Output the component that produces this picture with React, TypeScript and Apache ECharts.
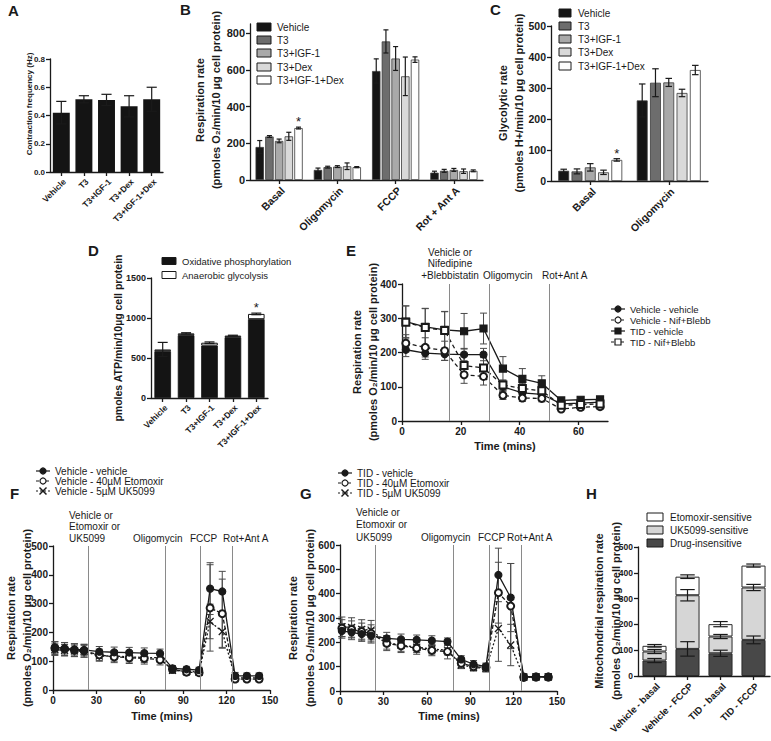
import { useEffect, useRef } from 'react';
import * as echarts from 'echarts';

// ---------- Panel A ----------
const aCategories = ['Vehicle', 'T3', 'T3+IGF-1', 'T3+Dex', 'T3+IGF-1+Dex'];
const aFrequency = [0.42, 0.515, 0.51, 0.465, 0.515];
const aFrequencyErr = [0.08, 0.025, 0.04, 0.075, 0.085];

// ---------- Panel B ----------
const bCategories = ['Basal', 'Oligomycin', 'FCCP', 'Rot + Ant A'];
const treatments = ['Vehicle', 'T3', 'T3+IGF-1', 'T3+Dex', 'T3+IGF-1+Dex'];
const bVehicle = [180, 55, 594, 40];
const bT3 = [237, 70, 755, 50];
const bT3Igf = [213, 73, 662, 55];
const bT3Dex = [238, 75, 565, 48];
const bT3IgfDex = [283, 70, 656, 50];
const bVehicleErr = [35, 10, 66, 8];
const bT3Err = [5, 5, 63, 8];
const bT3IgfErr = [10, 5, 65, 8];
const bT3DexErr = [22, 18, 105, 12];
const bT3IgfDexErr = [5, 3, 15, 5];
const bSignificant = [[0, 0, 0, 0], [0, 0, 0, 0], [0, 0, 0, 0], [0, 0, 0, 0], [1, 0, 0, 0]];
const bTicks = [0, 200, 400, 600, 800];

// ---------- Panel C ----------
const cCategories = ['Basal', 'Oligomycin'];
const cVehicle = [33, 260];
const cT3 = [31, 317];
const cT3Igf = [44, 318];
const cT3Dex = [28, 284];
const cT3IgfDex = [68, 358];
const cVehicleErr = [5, 53];
const cT3Err = [8, 45];
const cT3IgfErr = [12, 13];
const cT3DexErr = [7, 12];
const cT3IgfDexErr = [4, 15];
const cSignificant = [[0, 0], [0, 0], [0, 0], [0, 0], [1, 0]];

// ---------- Panel D ----------
const dCategories = ['Vehicle', 'T3', 'T3+IGF-1', 'T3+Dex', 'T3+IGF-1+Dex'];
const dOxPhos = [585, 785, 655, 760, 985];
const dGlycolysis = [22, 23, 36, 20, 66];
const dTotalErr = [88, 8, 10, 5, 10];
const dSignificant = [0, 0, 0, 0, 1];

// ---------- Panel E ----------
const eTime = [1.3, 7.9, 14.5, 21.1, 27.7, 34.3, 40.9, 47.5, 54.1, 60.7, 67.3];
const eVehVeh = [208, 198, 195, 194, 194, 100, 82, 78, 50, 52, 55];
const eVehNif = [227, 215, 205, 135, 130, 75, 67, 66, 35, 40, 42];
const eTidVeh = [290, 275, 266, 262, 270, 153, 123, 110, 60, 62, 63];
const eTidNif = [288, 273, 264, 162, 155, 105, 95, 88, 46, 48, 50];
const eVehVehErr = [20, 18, 18, 18, 18, 12, 10, 10, 6, 6, 6];
const eVehNifErr = [25, 28, 28, 25, 25, 12, 10, 10, 8, 8, 8];
const eTidVehErr = [46, 54, 54, 52, 45, 35, 30, 22, 8, 8, 8];
const eTidNifErr = [48, 55, 55, 30, 30, 15, 14, 12, 8, 8, 8];
const eInjections = [16, 29.5, 50];
const eXTicks = [0, 20, 40, 60];

// ---------- Panel F ----------
const fTime = [1.3, 8, 14.8, 21.5, 32, 42.3, 52.7, 63.1, 74, 82.6, 92.3, 101, 108.6, 117, 125.9, 134, 142.5];
const fVehicle = [148, 145, 141, 139, 133, 131, 130, 128, 127, 75, 72, 69, 352, 342, 49, 49, 49];
const fEtomoxir = [145, 142, 138, 136, 122, 115, 112, 110, 105, 72, 62, 60, 285, 265, 38, 38, 38];
const fUK5099 = [140, 138, 136, 134, 118, 118, 115, 113, 112, 68, 65, 62, 238, 203, 42, 42, 42];
const fVehicleErr = [20, 20, 20, 20, 18, 18, 18, 18, 15, 10, 10, 10, 90, 70, 12, 10, 10];
const fEtomoxirErr = [22, 22, 22, 22, 20, 20, 20, 20, 18, 12, 10, 10, 150, 120, 10, 10, 10];
const fUK5099Err = [20, 20, 20, 20, 18, 18, 18, 18, 15, 10, 10, 10, 60, 55, 10, 10, 10];
const fInjections = [24.5, 77.5, 102, 124];

// ---------- Panel G ----------
const gTime = [1.3, 8, 15, 21.5, 32.3, 42.2, 53, 63.5, 74.3, 83.8, 92.3, 100.9, 109.5, 118, 127, 135.5, 144];
const gVehicle = [247, 241, 234, 227, 216, 212, 210, 207, 203, 130, 110, 100, 477, 384, 59, 59, 59];
const gEtomoxir = [258, 253, 244, 237, 196, 186, 176, 167, 162, 114, 100, 97, 404, 349, 56, 57, 57];
const gUK5099 = [264, 261, 253, 250, 200, 188, 180, 172, 168, 107, 97, 93, 257, 189, 57, 58, 58];
const gVehicleErr = [30, 30, 30, 30, 25, 22, 20, 20, 15, 15, 15, 15, 110, 140, 12, 12, 12];
const gEtomoxirErr = [35, 35, 35, 35, 30, 28, 25, 22, 30, 20, 15, 15, 125, 175, 12, 12, 12];
const gUK5099Err = [40, 40, 40, 40, 28, 25, 22, 20, 20, 15, 15, 15, 135, 85, 12, 12, 12];
const gInjections = [24.5, 78, 103, 125];

// ---------- Panel H ----------
const hCategories = ['Vehicle - basal', 'Vehicle - FCCP', 'TID - basal', 'TID - FCCP'];
const hDrugInsensitive = [60, 105, 88, 140];
const hUK5099Sensitive = [35, 208, 65, 203];
const hEtomoxirSensitive = [22, 72, 48, 85];
const hDrugInsensitiveErr = [8, 28, 12, 15];
const hUK5099Err = [8, 22, 8, 12];
const hEtomoxirErr = [5, 7, 10, 6];

// ---------- styling ----------
const FONT = '"Liberation Sans", Arial, Helvetica, sans-serif';
const INK = '#1a1a1a';
const ERR = '#4a4a4a';
const AXIS_LINE = { color: INK, width: 1.3 };
const groupColors = ['#151515', '#6d6d6d', '#a9a9a9', '#d9d9d9', '#ffffff'];

function valueAxis(gridIndex: number, min: number, max: number, interval: number, fontSize: number, isX: boolean, custom?: number[], decimals = 0) {
  const ax: any = {
    type: 'value', gridIndex, min, max, interval,
    axisLine: { show: true, lineStyle: AXIS_LINE },
    axisTick: { show: true, length: 4, lineStyle: AXIS_LINE },
    splitLine: { show: false },
    axisLabel: {
      color: INK, fontFamily: FONT, fontWeight: 'bold', fontSize, margin: isX ? 5 : 5,
      formatter: (v: number) => (custom && custom.indexOf(v) < 0 ? '' : v.toFixed(decimals)),
    },
  };
  if (custom) {
    ax.axisLabel.customValues = custom;
    ax.axisTick.customValues = custom;
  }
  return ax;
}

function categoryAxis(gridIndex: number, data: string[], fontSize: number) {
  return {
    type: 'category', gridIndex, data,
    axisLine: { show: true, lineStyle: AXIS_LINE },
    axisTick: { show: true, alignWithLabel: true, length: 4, lineStyle: AXIS_LINE },
    splitLine: { show: false },
    axisLabel: {
      interval: 0, rotate: 45, color: INK, fontFamily: FONT, fontWeight: 'bold', fontSize, margin: 5,
      align: 'right', verticalAlign: 'top',
    },
  };
}

function barErrors(idx: number, rows: number[][], nSeries: number, catGap: number, barGap: number) {
  return {
    type: 'custom', xAxisIndex: idx, yAxisIndex: idx, z: 5, silent: true,
    encode: { x: 0, y: 1 },
    data: rows,
    renderItem: (_p: any, api: any) => {
      const ci = api.value(0), v = api.value(1), e = api.value(2), si = api.value(3), star = api.value(4);
      const band = api.size([1, 0])[0];
      const bw = (band * (1 - catGap)) / (nSeries + (nSeries - 1) * barGap);
      const total = nSeries * bw + (nSeries - 1) * bw * barGap;
      const c = api.coord([ci, v]);
      const x = c[0] - total / 2 + si * bw * (1 + barGap) + bw / 2;
      const yT = api.coord([ci, v + e])[1];
      const yB = api.coord([ci, v - e])[1];
      const h = Math.max(2.5, bw * 0.3);
      const st = { stroke: INK, lineWidth: 1.2 };
      const children: any[] = [
        { type: 'line', shape: { x1: x, y1: yT, x2: x, y2: yB }, style: st },
        { type: 'line', shape: { x1: x - h, y1: yT, x2: x + h, y2: yT }, style: st },
        { type: 'line', shape: { x1: x - h, y1: yB, x2: x + h, y2: yB }, style: st },
      ];
      if (star) {
        children.push({ type: 'text', x, y: yT + 1, style: { text: '*', fontSize: 13, fontFamily: FONT, fill: INK, align: 'center', verticalAlign: 'bottom' } });
      }
      return { type: 'group', children };
    },
  };
}

function pointErrors(idx: number, xs: number[], ys: number[], es: number[]) {
  return {
    type: 'custom', xAxisIndex: idx, yAxisIndex: idx, z: 1, silent: true,
    encode: { x: 0, y: 1 },
    data: xs.map((x, i) => [x, ys[i], es[i]]),
    renderItem: (_p: any, api: any) => {
      const xv = api.value(0), v = api.value(1), e = api.value(2);
      const x = api.coord([xv, v])[0];
      const yT = api.coord([xv, v + e])[1];
      const yB = api.coord([xv, v - e])[1];
      const h = 3.5;
      const st = { stroke: ERR, lineWidth: 1 };
      return {
        type: 'group',
        children: [
          { type: 'line', shape: { x1: x, y1: yT, x2: x, y2: yB }, style: st },
          { type: 'line', shape: { x1: x - h, y1: yT, x2: x + h, y2: yT }, style: st },
          { type: 'line', shape: { x1: x - h, y1: yB, x2: x + h, y2: yB }, style: st },
        ],
      };
    },
  };
}

const CROSS = 'path://M0,0L10,10M10,0L0,10';

function lineSeries(idx: number, name: string, xs: number[], ys: number[], symbol: string, dash: any, marks?: number[]) {
  const s: any = {
    type: 'line', name, xAxisIndex: idx, yAxisIndex: idx, z: 3,
    data: xs.map((x, i) => [x, ys[i]]),
    symbol, symbolSize: 7, showSymbol: true,
    lineStyle: { color: INK, width: 1.3, type: dash },
    itemStyle: { color: INK, borderColor: INK, borderWidth: 1.2 },
  };
  if (marks) {
    s.markLine = {
      silent: true, symbol: ['none', 'none'], label: { show: false },
      lineStyle: { color: '#8a8a8a', width: 1, type: 'solid' },
      data: marks.map((v) => ({ xAxis: v })),
    };
  }
  return s;
}

function txt(x: number, y: number, text: string, size: number, opts: any = {}) {
  return {
    type: 'text', x, y, rotation: opts.rotation || 0, silent: true,
    style: {
      text, fontSize: size, fontFamily: FONT, fontWeight: opts.bold ? 'bold' : 'normal', fill: INK,
      align: opts.align || 'left', verticalAlign: 'middle',
    },
  };
}
const vtxt = (x: number, y: number, text: string, size: number) =>
  txt(x, y, text, size, { rotation: Math.PI / 2, align: 'center', bold: true });

function barLegend(x: number, w: number, h: number, tx: number, rows: number[], names: string[], fills: string[], size: number) {
  const out: any[] = [];
  names.forEach((n, i) => {
    out.push({ type: 'rect', silent: true, shape: { x, y: rows[i] - h / 2, width: w, height: h }, style: { fill: fills[i], stroke: INK, lineWidth: 1 } });
    out.push(txt(tx, rows[i], n, size));
  });
  return out;
}

function lineLegend(x1: number, x2: number, tx: number, rows: number[], names: string[], marks: string[], dashes: any[], size: number) {
  const out: any[] = [];
  names.forEach((n, i) => {
    const y = rows[i];
    const cx = (x1 + x2) / 2;
    out.push({ type: 'line', silent: true, shape: { x1, y1: y, x2, y2: y }, style: { stroke: INK, lineWidth: 1.2, lineDash: dashes[i] } });
    const m = marks[i];
    if (m === 'circle' || m === 'emptyCircle') {
      out.push({ type: 'circle', silent: true, shape: { cx, cy: y, r: 3 }, style: { fill: m === 'circle' ? INK : '#fff', stroke: INK, lineWidth: 1.2 } });
    } else if (m === 'rect' || m === 'emptyRect') {
      out.push({ type: 'rect', silent: true, shape: { x: cx - 3, y: y - 3, width: 6, height: 6 }, style: { fill: m === 'rect' ? INK : '#fff', stroke: INK, lineWidth: 1.2 } });
    } else {
      out.push({ type: 'line', silent: true, shape: { x1: cx - 3.5, y1: y - 3.5, x2: cx + 3.5, y2: y + 3.5 }, style: { stroke: INK, lineWidth: 1.5 } });
      out.push({ type: 'line', silent: true, shape: { x1: cx + 3.5, y1: y - 3.5, x2: cx - 3.5, y2: y + 3.5 }, style: { stroke: INK, lineWidth: 1.5 } });
    }
    out.push(txt(tx, y, n, size));
  });
  return out;
}

function buildOption() {
  const grids = [
    { left: 50, top: 59, width: 113, height: 113 }, // A
    { left: 250, top: 24, width: 233, height: 156 }, // B
    { left: 551, top: 26, width: 157, height: 155 }, // C
    { left: 151, top: 278, width: 117, height: 120 }, // D
    { left: 402, top: 284, width: 206, height: 137 }, // E
    { left: 53, top: 546, width: 217, height: 144 }, // F
    { left: 340, top: 545, width: 217, height: 146 }, // G
    { left: 638, top: 547, width: 132, height: 129 }, // H
  ];

  const xAxis = [
    categoryAxis(0, aCategories, 8.5),
    categoryAxis(1, bCategories, 10.5),
    categoryAxis(2, cCategories, 10.5),
    categoryAxis(3, dCategories, 8.5),
    valueAxis(4, 0, 70, 20, 10, true, eXTicks),
    valueAxis(5, 0, 150, 30, 10, true),
    valueAxis(6, 0, 150, 30, 10, true),
    categoryAxis(7, hCategories, 9.5),
  ];
  const yAxis = [
    valueAxis(0, 0, 0.8, 0.2, 8, false, undefined, 1),
    valueAxis(1, 0, 850, 50, 11, false, bTicks),
    valueAxis(2, 0, 500, 100, 10.5, false),
    valueAxis(3, 0, 1500, 500, 9, false),
    valueAxis(4, 0, 400, 100, 10, false),
    valueAxis(5, 0, 500, 100, 10, false),
    valueAxis(6, 0, 600, 100, 10, false),
    valueAxis(7, 0, 500, 100, 8.5, false),
  ];

  const series: any[] = [];

  // A
  series.push({ type: 'bar', xAxisIndex: 0, yAxisIndex: 0, data: aFrequency, barCategoryGap: '25%', itemStyle: { color: '#141414' } });
  series.push(barErrors(0, aFrequency.map((v, i) => [i, v, aFrequencyErr[i], 0, 0]), 1, 0.25, 0));

  // B
  const bVals = [bVehicle, bT3, bT3Igf, bT3Dex, bT3IgfDex];
  const bErrs = [bVehicleErr, bT3Err, bT3IgfErr, bT3DexErr, bT3IgfDexErr];
  treatments.forEach((name, si) => {
    series.push({
      type: 'bar', name, xAxisIndex: 1, yAxisIndex: 1, data: bVals[si], barCategoryGap: '19%', barGap: '15%',
      itemStyle: { color: groupColors[si], borderColor: '#3a3a3a', borderWidth: 0.8 },
    });
  });
  series.push(barErrors(1, bVals.flatMap((vals, si) => vals.map((v, ci) => [ci, v, bErrs[si][ci], si, bSignificant[si][ci]])), 5, 0.19, 0.15));

  // C
  const cVals = [cVehicle, cT3, cT3Igf, cT3Dex, cT3IgfDex];
  const cErrs = [cVehicleErr, cT3Err, cT3IgfErr, cT3DexErr, cT3IgfDexErr];
  treatments.forEach((name, si) => {
    series.push({
      type: 'bar', name, xAxisIndex: 2, yAxisIndex: 2, data: cVals[si], barCategoryGap: '18.5%', barGap: '22%',
      itemStyle: { color: groupColors[si], borderColor: '#3a3a3a', borderWidth: 0.8 },
    });
  });
  series.push(barErrors(2, cVals.flatMap((vals, si) => vals.map((v, ci) => [ci, v, cErrs[si][ci], si, cSignificant[si][ci]])), 5, 0.185, 0.22));

  // D
  series.push({ type: 'bar', name: 'Oxidative phosphorylation', stack: 'd', xAxisIndex: 3, yAxisIndex: 3, data: dOxPhos, barCategoryGap: '29%', itemStyle: { color: '#141414', borderColor: '#141414', borderWidth: 0.8 } });
  series.push({ type: 'bar', name: 'Anaerobic glycolysis', stack: 'd', xAxisIndex: 3, yAxisIndex: 3, data: dGlycolysis, barCategoryGap: '29%', itemStyle: { color: '#ffffff', borderColor: '#141414', borderWidth: 1 } });
  series.push(barErrors(3, dOxPhos.map((v, i) => [i, v + dGlycolysis[i], dTotalErr[i], 0, dSignificant[i]]), 1, 0.29, 0));

  // E
  series.push(pointErrors(4, eTime, eVehVeh, eVehVehErr));
  series.push(pointErrors(4, eTime, eVehNif, eVehNifErr));
  series.push(pointErrors(4, eTime, eTidVeh, eTidVehErr));
  series.push(pointErrors(4, eTime, eTidNif, eTidNifErr));
  series.push(lineSeries(4, 'Vehicle - vehicle', eTime, eVehVeh, 'circle', 'solid', eInjections));
  series.push(lineSeries(4, 'Vehicle - Nif+Blebb', eTime, eVehNif, 'emptyCircle', [4, 3]));
  series.push(lineSeries(4, 'TID - vehicle', eTime, eTidVeh, 'rect', 'solid'));
  series.push(lineSeries(4, 'TID - Nif+Blebb', eTime, eTidNif, 'emptyRect', [4, 3]));

  // F
  series.push(pointErrors(5, fTime, fVehicle, fVehicleErr));
  series.push(pointErrors(5, fTime, fEtomoxir, fEtomoxirErr));
  series.push(pointErrors(5, fTime, fUK5099, fUK5099Err));
  series.push(lineSeries(5, 'Vehicle - 5µM UK5099', fTime, fUK5099, CROSS, [2, 2], fInjections));
  series.push(lineSeries(5, 'Vehicle - 40µM Etomoxir', fTime, fEtomoxir, 'emptyCircle', [4, 2]));
  series.push(lineSeries(5, 'Vehicle - vehicle', fTime, fVehicle, 'circle', 'solid'));

  // G
  series.push(pointErrors(6, gTime, gVehicle, gVehicleErr));
  series.push(pointErrors(6, gTime, gEtomoxir, gEtomoxirErr));
  series.push(pointErrors(6, gTime, gUK5099, gUK5099Err));
  series.push(lineSeries(6, 'TID - 5µM UK5099', gTime, gUK5099, CROSS, [2, 2], gInjections));
  series.push(lineSeries(6, 'TID - 40µM Etomoxir', gTime, gEtomoxir, 'emptyCircle', [4, 2]));
  series.push(lineSeries(6, 'TID - vehicle', gTime, gVehicle, 'circle', 'solid'));

  // H
  const hStyle = (c: string) => ({ color: c, borderColor: '#2a2a2a', borderWidth: 1 });
  series.push({ type: 'bar', name: 'Drug-insensitive', stack: 'h', xAxisIndex: 7, yAxisIndex: 7, data: hDrugInsensitive, barCategoryGap: '27%', itemStyle: hStyle('#484848') });
  series.push({ type: 'bar', name: 'UK5099-sensitive', stack: 'h', xAxisIndex: 7, yAxisIndex: 7, data: hUK5099Sensitive, barCategoryGap: '27%', itemStyle: hStyle('#d6d6d6') });
  series.push({ type: 'bar', name: 'Etomoxir-sensitive', stack: 'h', xAxisIndex: 7, yAxisIndex: 7, data: hEtomoxirSensitive, barCategoryGap: '27%', itemStyle: hStyle('#ffffff') });
  const hRows: number[][] = [];
  hCategories.forEach((_c, i) => {
    const t1 = hDrugInsensitive[i];
    const t2 = t1 + hUK5099Sensitive[i];
    const t3 = t2 + hEtomoxirSensitive[i];
    hRows.push([i, t1, hDrugInsensitiveErr[i], 0, 0]);
    hRows.push([i, t2, hUK5099Err[i], 0, 0]);
    hRows.push([i, t3, hEtomoxirErr[i], 0, 0]);
  });
  series.push(barErrors(7, hRows, 1, 0.27, 0));

  // ---------- graphics: letters, axis names, legends, annotations ----------
  const g: any[] = [];
  const letters: [string, number, number][] = [
    ['A', 8, 10], ['B', 180, 9], ['C', 490, 9], ['D', 88, 250],
    ['E', 346, 250], ['F', 10, 493], ['G', 300, 493], ['H', 586, 493],
  ];
  letters.forEach(([l, x, y]) => g.push(txt(x, y, l, 15, { bold: true })));

  g.push(vtxt(29, 104, 'Contraction frequency (Hz)', 8));
  g.push(vtxt(200, 100, 'Respiration rate', 11));
  g.push(vtxt(216, 100, '(pmoles O₂/min/10 µg cell protein)', 11));
  g.push(vtxt(503, 103, 'Glycolytic rate', 11));
  g.push(vtxt(519, 103, '(pmoles H+/min/10 µg cell protein)', 11));
  g.push(vtxt(118, 338, 'pmoles ATP/min/10µg cell protein', 10.5));
  g.push(vtxt(357, 352, 'Respiration rate', 11));
  g.push(vtxt(373, 352, '(pmoles O₂/min/10 µg cell protein)', 11));
  g.push(vtxt(11, 618, 'Respiration rate', 11));
  g.push(vtxt(27, 618, '(pmoles O₂/min/10 µg cell protein)', 11));
  g.push(vtxt(293, 618, 'Respiration rate', 11));
  g.push(vtxt(310, 618, '(pmoles O₂/min/10 µg cell protein)', 11));
  g.push(vtxt(599, 611, 'Mitochondrial respiration rate', 11));
  g.push(vtxt(616, 611, '(pmoles O₂/min/10 µg cell protein)', 11));

  g.push(txt(505, 446, 'Time (mins)', 11, { bold: true, align: 'center' }));
  g.push(txt(162, 716, 'Time (mins)', 11, { bold: true, align: 'center' }));
  g.push(txt(449, 716, 'Time (mins)', 11, { bold: true, align: 'center' }));

  // annotations
  g.push(txt(450, 252, 'Vehicle or', 10, { align: 'center' }));
  g.push(txt(450, 263, 'Nifedipine', 10, { align: 'center' }));
  g.push(txt(450, 275, '+Blebbistatin', 10, { align: 'center' }));
  g.push(txt(483, 275, 'Oligomycin', 10));
  g.push(txt(542, 275, 'Rot+Ant A', 10));

  g.push(txt(69, 515, 'Vehicle or', 10));
  g.push(txt(69, 526.5, 'Etomoxir or', 10));
  g.push(txt(69, 538, 'UK5099', 10));
  g.push(txt(133, 538, 'Oligomycin', 10));
  g.push(txt(190, 538, 'FCCP', 10));
  g.push(txt(223, 538, 'Rot+Ant A', 10));

  g.push(txt(356, 512, 'Vehicle or', 10));
  g.push(txt(356, 524.5, 'Etomoxir or', 10));
  g.push(txt(356, 537, 'UK5099', 10));
  g.push(txt(421, 537, 'Oligomycin', 10));
  g.push(txt(478, 537, 'FCCP', 10));
  g.push(txt(507, 537, 'Rot+Ant A', 10));

  // legends
  g.push(...barLegend(257, 14, 8, 277, [27, 40, 53, 67, 80], treatments, groupColors, 10));
  g.push(...barLegend(559, 12, 8, 578, [13, 26, 39, 52, 66], treatments, groupColors, 10));
  g.push(...barLegend(162, 14, 7, 182, [261, 275], ['Oxidative phosphorylation', 'Anaerobic glycolysis'], ['#141414', '#ffffff'], 9.5));
  g.push(...barLegend(647, 16, 8, 670, [517, 530, 543], ['Etomoxir-sensitive', 'UK5099-sensitive', 'Drug-insensitive'], ['#ffffff', '#d6d6d6', '#484848'], 10));
  g.push(...lineLegend(611, 625, 630, [309, 320, 331, 342],
    ['Vehicle - vehicle', 'Vehicle - Nif+Blebb', 'TID - vehicle', 'TID - Nif+Blebb'],
    ['circle', 'emptyCircle', 'rect', 'emptyRect'], [null, [3, 2], null, [3, 2]], 9.5));
  g.push(...lineLegend(36, 50, 55, [471, 481, 491],
    ['Vehicle - vehicle', 'Vehicle - 40µM Etomoxir', 'Vehicle - 5µM UK5099'],
    ['circle', 'emptyCircle', 'cross'], [null, [3, 2], [2, 2]], 10));
  g.push(...lineLegend(338, 352, 357, [473, 483, 493],
    ['TID - vehicle', 'TID - 40µM Etomoxir', 'TID - 5µM UK5099'],
    ['circle', 'emptyCircle', 'cross'], [null, [3, 2], [2, 2]], 10));

  return {
    animation: false,
    backgroundColor: '#ffffff',
    textStyle: { fontFamily: FONT },
    grid: grids,
    xAxis,
    yAxis,
    series,
    graphic: { elements: g },
  };
}

export default function App() {
  const ref = useRef<HTMLDivElement>(null);
  useEffect(() => {
    if (!ref.current) return;
    const chart = echarts.init(ref.current, undefined, { renderer: 'svg' });
    chart.setOption(buildOption() as any);
    return () => chart.dispose();
  }, []);
  return (
    <div
      ref={ref}
      style={{ position: 'absolute', left: 0, top: 0, width: 771, height: 741, background: '#fff' }}
    />
  );
}
